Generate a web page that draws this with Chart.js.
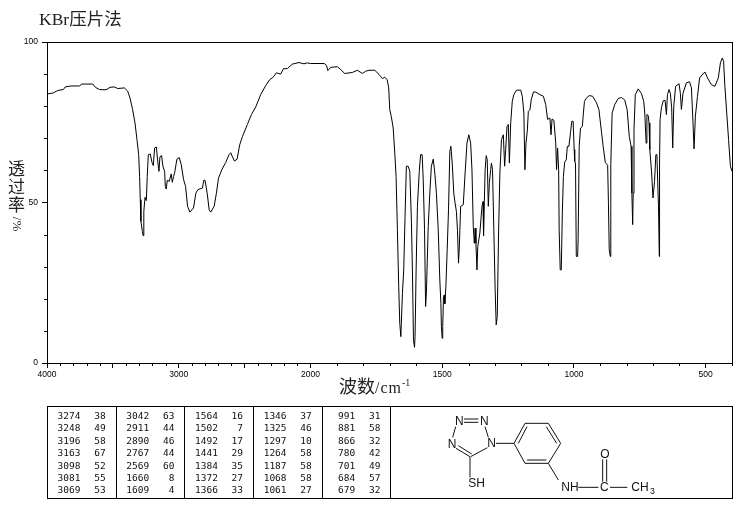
<!DOCTYPE html>
<html>
<head>
<meta charset="utf-8">
<title>KBr压片法</title>
<script src="https://cdn.jsdelivr.net/npm/chart.js@4"></script>
<style>
    html, body { margin: 0; padding: 0; background: #fff; }
    #page { position: relative; width: 737px; height: 510px; overflow: hidden; }
    canvas { position: absolute; left: 0; top: 0; }
    .label { position: absolute; color: #222; font-family: "Liberation Serif", "Noto Sans CJK SC", serif; font-size: 17px; line-height: 1; white-space: nowrap; }
    #chart-title { left: 39px; top: 11px; font-size: 17.5px; }
    #x-title { left: 339px; top: 378px; font-size: 18px; }
    #x-title .unit { font-size: 16px; letter-spacing: 1px; }
    #x-title sup { font-size: 10px; line-height: 0; }
    #y-title { left: 8px; top: 161px; line-height: 18px; }
    #y-title span { display: block; }
    #y-title .unit { margin-top: 0; width: 17px; height: 18px; line-height: 17px; text-align: center; transform: rotate(90deg); font-size: 13px; }
    #peaks { position: absolute; left: 47px; top: 406px; width: 686px; height: 92px; border: 1px solid #000; box-sizing: border-box; border-collapse: collapse; table-layout: fixed; font-family: "DejaVu Sans Mono", monospace; font-size: 9.5px; color: #111; }
    #peaks td { padding: 0; height: 12.4px; line-height: 12.4px; text-align: right; }
    #peaks tr:first-child td { height: 15.4px; vertical-align: bottom; }
    #peaks tr:last-child td { height: 13.6px; vertical-align: top; }
    #peaks col.wn { width: 33px; }
    #peaks col.t { width: 35.7px; }
    #peaks td.t { padding-right: 10px; border-right: 1px solid #000; }
    #peaks td.mol { border: 0; }
    #molecule { position: absolute; left: 390px; top: 400px; }
    #molecule line { stroke: #111; stroke-width: 3; }
    #molecule text { font-family: "Liberation Sans", sans-serif; font-size: 36px; fill: #111; text-anchor: middle; dominant-baseline: central; }
</style>
</head>
<body>
<div id="page">
    <canvas id="irChart" width="737" height="510"></canvas>
    <div class="label" id="chart-title">KBr压片法</div>
    <div class="label" id="y-title"><span>透</span><span>过</span><span>率</span><span class="unit">/%</span></div>
    <div class="label" id="x-title">波数<span class="unit">/cm</span><sup>-1</sup></div>
    <table id="peaks"></table>
    <svg id="molecule" width="347" height="105" viewBox="0 0 1041 315">
        <line x1="222" y1="57" x2="265" y2="57"/><line x1="222" y1="67" x2="265" y2="67"/>
        <line x1="197" y1="80" x2="188" y2="112"/><line x1="285" y1="80" x2="295" y2="112"/>
        <line x1="292" y1="143" x2="242" y2="170"/><line x1="198" y1="145" x2="240" y2="170"/>
        <line x1="205" y1="137" x2="245" y2="162"/><line x1="240" y1="170" x2="240" y2="232"/>
        <line x1="318" y1="130" x2="372" y2="130"/>
        <line x1="372" y1="130" x2="405" y2="70"/><line x1="385" y1="130" x2="411" y2="80"/>
        <line x1="405" y1="70" x2="475" y2="70"/>
        <line x1="475" y1="70" x2="512" y2="130"/><line x1="469" y1="80" x2="500" y2="130"/>
        <line x1="512" y1="130" x2="475" y2="190"/>
        <line x1="475" y1="190" x2="405" y2="190"/><line x1="469" y1="180" x2="411" y2="180"/>
        <line x1="405" y1="190" x2="372" y2="130"/>
        <line x1="475" y1="190" x2="505" y2="240"/>
        <line x1="565" y1="262" x2="625" y2="262"/><line x1="660" y1="262" x2="712" y2="262"/>
        <line x1="638" y1="178" x2="638" y2="245"/><line x1="650" y1="178" x2="650" y2="245"/>
        <text x="208" y="62">N</text><text x="283" y="62">N</text><text x="305" y="130">N</text><text x="186" y="132">N</text>
        <text x="260" y="248">SH</text><text x="540" y="262">NH</text><text x="643" y="262">C</text><text x="645" y="163">O</text>
        <text x="750" y="262">CH</text><text x="787" y="272" style="font-size:26px">3</text>
    </svg>
</div>
<script>
// Spectre IR : nombres d'onde et transmittance
const wavenumbers = [
    4000, 3955, 3918, 3875, 3862, 3817, 3754, 3736, 3653, 3633, 3602, 3552, 3521, 3489, 3463, 3413, 3388, 3370, 3350, 3332,
    3317, 3304, 3297, 3292, 3287, 3276, 3271, 3266, 3264, 3256, 3246, 3239, 3231, 3216, 3203, 3193, 3183, 3170, 3158, 3150,
    3143, 3130, 3120, 3107, 3102, 3095, 3087, 3072, 3057, 3049, 3039, 3029, 3014, 2996, 2981, 2963, 2948, 2933, 2915, 2888,
    2870, 2855, 2820, 2810, 2800, 2784, 2769, 2757, 2731, 2714, 2698, 2673, 2643, 2618, 2605, 2592, 2577, 2557, 2537, 2516,
    2479, 2448, 2415, 2378, 2340, 2309, 2284, 2259, 2226, 2205, 2175, 2138, 2087, 2049, 2024, 2001, 1948, 1939, 1934, 1923,
    1898, 1885, 1870, 1841, 1822, 1803, 1790, 1778, 1756, 1740, 1727, 1718, 1709, 1703, 1699, 1693, 1686, 1680, 1675, 1670,
    1665, 1661, 1657, 1655, 1651, 1646, 1641, 1636, 1629, 1623, 1617, 1613, 1609, 1605, 1603, 1599, 1594, 1587, 1582, 1576,
    1572, 1567, 1563, 1560, 1553, 1547, 1541, 1534, 1528, 1522, 1515, 1509, 1505, 1503, 1500, 1498, 1495, 1492, 1490, 1486,
    1481, 1476, 1471, 1467, 1462, 1456, 1451, 1446, 1442, 1438, 1435, 1430, 1420, 1413, 1406, 1399, 1392, 1387, 1382, 1378,
    1375, 1372, 1368, 1365, 1357, 1349, 1345, 1343, 1340, 1337, 1333, 1329, 1325, 1321, 1316, 1313, 1309, 1304, 1299, 1295,
    1291, 1286, 1281, 1275, 1268, 1263, 1259, 1254, 1249, 1245, 1240, 1234, 1228, 1218, 1202, 1196, 1190, 1186, 1182, 1177,
    1173, 1167, 1162, 1154, 1145, 1129, 1116, 1107, 1100, 1091, 1087, 1083, 1076, 1069, 1066, 1062, 1058, 1056, 1052, 1048,
    1044, 1040, 1035, 1029, 1025, 1019, 1013, 1008, 1003, 999, 997, 994, 991, 986, 984, 980, 975, 968, 965, 960,
    952, 942, 929, 914, 905, 895, 889, 881, 872, 869, 866, 862, 860, 855, 845, 832, 819, 807, 798, 790,
    783, 780, 777, 775, 772, 767, 756, 744, 735, 731, 726, 723, 718, 715, 712, 705, 700, 698, 694, 689,
    685, 683, 679, 676, 675, 673, 668, 661, 654, 649, 645, 639, 634, 629, 625, 621, 614, 601, 596, 592,
    586, 573, 561, 554, 548, 544, 539, 531, 523, 507, 502, 493, 478, 465, 452, 444, 437, 432, 427, 420,
    413, 406, 400
];
const transmittance = [
    83.8, 84.1, 84.9, 85.2, 86.0, 86.3, 86.3, 86.9, 86.9, 85.9, 85.2, 85.1, 85.9, 86.0, 85.5, 85.7, 84.7, 82.6, 78.9, 74.8,
    69.6, 64.9, 58.1, 50.9, 44.1, 41.0, 39.7, 41.5, 47.2, 51.6, 50.6, 58.1, 64.9, 65.1, 62.5, 61.5, 67.0, 67.3, 62.3, 59.7,
    64.2, 64.6, 61.3, 59.7, 55.0, 54.2, 56.9, 56.6, 58.9, 56.3, 58.1, 59.7, 63.5, 64.0, 61.8, 57.1, 55.0, 48.8, 47.0, 48.3,
    52.9, 54.0, 54.5, 56.9, 56.9, 52.9, 47.7, 47.0, 48.8, 52.9, 57.6, 60.2, 62.5, 64.9, 65.5, 64.2, 62.9, 63.5, 68.0, 70.6,
    74.3, 77.4, 79.8, 83.6, 86.4, 88.3, 89.0, 90.4, 90.0, 91.7, 91.7, 93.1, 93.6, 93.2, 93.5, 93.3, 93.3, 92.7, 91.1, 92.1,
    92.3, 91.4, 90.2, 90.5, 91.2, 90.2, 90.9, 91.2, 91.2, 89.9, 88.6, 89.0, 88.3, 85.7, 78.9, 76.7, 73.2, 65.4, 58.1, 41.5,
    23.8, 12.4, 8.2, 12.4, 21.7, 29.0, 45.7, 61.3, 61.3, 59.7, 44.6, 29.0, 7.2, 4.9, 8.2, 29.0, 48.8, 59.7, 64.9, 64.9,
    57.1, 41.5, 17.6, 21.7, 42.5, 52.9, 61.3, 63.5, 59.2, 52.9, 41.5, 25.9, 18.6, 11.3, 7.7, 11.3, 20.7, 21.2, 18.4, 23.8,
    35.3, 47.7, 65.9, 67.5, 62.3, 52.9, 49.8, 47.2, 41.3, 31.1, 36.1, 48.8, 49.3, 59.2, 68.5, 71.1, 68.5, 60.2, 42.5, 37.3,
    42.0, 37.3, 29.0, 36.3, 40.5, 48.8, 50.3, 39.6, 50.3, 60.2, 64.6, 63.3, 48.8, 56.0, 60.2, 62.3, 60.2, 41.5, 22.8, 11.9,
    14.5, 40.5, 59.2, 69.6, 71.1, 61.3, 66.5, 73.7, 74.3, 62.3, 74.8, 81.5, 83.6, 85.0, 85.0, 83.1, 77.9, 60.2, 68.5, 72.2,
    78.4, 78.9, 82.0, 84.4, 84.4, 83.6, 83.1, 80.5, 75.9, 76.3, 71.1, 76.0, 75.6, 68.5, 60.2, 67.0, 60.2, 41.5, 29.0, 29.0,
    46.7, 58.1, 62.6, 63.3, 67.5, 67.5, 71.7, 75.3, 75.3, 66.5, 62.8, 62.3, 33.2, 33.2, 38.4, 67.5, 73.2, 73.7, 76.9, 81.5,
    82.6, 83.3, 83.1, 81.0, 78.9, 71.7, 67.5, 62.5, 61.6, 49.8, 35.3, 33.2, 61.8, 77.9, 80.5, 82.4, 82.7, 81.9, 78.9, 70.6,
    67.5, 52.9, 43.1, 52.9, 72.8, 83.6, 85.4, 84.0, 81.5, 77.9, 68.5, 77.4, 77.1, 74.8, 66.5, 59.2, 51.4, 53.0, 56.6, 64.9,
    64.9, 59.2, 48.8, 33.2, 62.3, 75.8, 79.5, 81.7, 81.8, 77.4, 83.6, 85.2, 84.0, 79.5, 67.0, 80.0, 86.2, 87.0, 84.0, 79.0,
    84.0, 87.3, 87.6, 85.7, 74.8, 66.7, 76.9, 83.1, 88.8, 90.4, 90.6, 88.8, 86.7, 86.2, 88.8, 93.5, 95.0, 94.0, 86.2, 77.9,
    69.6, 61.3, 59.7
];

// Graduations
const xMajorTicks = [4000, 3500, 3000, 2500, 2000, 1500, 1000, 500];
const xTickLabels = ['4000', '', '3000', '', '2000', '1500', '1000', '500'];
const xMinorTicks = [
    3900, 3800, 3700, 3600, 3400, 3300, 3200, 3100, 2900, 2800, 2700, 2600, 2400, 2300, 2200, 2100,
    1900, 1800, 1700, 1600, 1400, 1300, 1200, 1100, 900, 800, 700, 600, 400
];
const yMajorTicks = [0, 50, 100];
const yMinorTicks = [10, 20, 30, 40, 60, 70, 80, 90];

// Tableau des pics
const peakWavenumbers = [
    3274, 3248, 3196, 3163, 3098, 3081, 3069,
    3042, 2911, 2890, 2767, 2569, 1660, 1609,
    1564, 1502, 1492, 1441, 1384, 1372, 1366,
    1346, 1325, 1297, 1264, 1187, 1068, 1061,
    991, 881, 866, 780, 701, 684, 679
];
const peakValues = [
    38, 49, 58, 67, 52, 55, 53,
    63, 44, 46, 44, 60, 8, 4,
    16, 7, 17, 29, 35, 27, 33,
    37, 46, 10, 58, 58, 58, 27,
    31, 58, 32, 42, 49, 57, 32
];

// L'échelle est comprimée de moitié au-dessus de 2000 cm-1
function axisPosition(wn) {
    return wn > 2000 ? 2000 + (wn - 2000) / 2 : wn;
}

function buildPeakTable() {
    const table = document.getElementById('peaks');
    const colgroup = document.createElement('colgroup');
    for (let col = 0; col < 5; col++) {
        colgroup.innerHTML += '<col class="wn"><col class="t">';
    }
    colgroup.innerHTML += '<col>';
    table.appendChild(colgroup);
    for (let row = 0; row < 7; row++) {
        const tr = table.insertRow();
        for (let col = 0; col < 5; col++) {
            const i = col * 7 + row;
            const wn = tr.insertCell();
            wn.className = 'wn';
            wn.textContent = peakWavenumbers[i];
            const t = tr.insertCell();
            t.className = 't';
            t.textContent = peakValues[i];
        }
        if (row === 0) {
            const mol = tr.insertCell();
            mol.className = 'mol';
            mol.rowSpan = 7;
        }
    }
}

// Cadre complet et petites graduations
const framePlugin = {
    id: 'frame',
    afterDraw(chart) {
        const { ctx, chartArea, scales } = chart;
        ctx.save();
        ctx.strokeStyle = '#000';
        ctx.lineWidth = 1;
        ctx.strokeRect(chartArea.left + 0.5, chartArea.top + 0.5, chartArea.width, chartArea.height);
        ctx.beginPath();
        xMinorTicks.forEach(wn => {
            const x = Math.round(scales.x.getPixelForValue(axisPosition(wn))) + 0.5;
            ctx.moveTo(x, chartArea.bottom);
            ctx.lineTo(x, chartArea.bottom + 3);
        });
        yMinorTicks.forEach(v => {
            const y = Math.round(scales.y.getPixelForValue(v)) + 0.5;
            ctx.moveTo(chartArea.left, y);
            ctx.lineTo(chartArea.left - 3, y);
        });
        ctx.stroke();
        ctx.restore();
    }
};

const tickFont = { family: '"Liberation Sans", sans-serif', size: 8.5 };

buildPeakTable();

new Chart(document.getElementById('irChart'), {
    type: 'line',
    plugins: [framePlugin],
    data: {
        datasets: [{
            data: wavenumbers.map((wn, i) => ({ x: axisPosition(wn), y: transmittance[i] })),
            borderColor: '#000',
            borderWidth: 1,
            pointRadius: 0,
            tension: 0
        }]
    },
    options: {
        responsive: false,
        animation: false,
        layout: { padding: { top: 42, right: 5, left: 0, bottom: 0 } },
        plugins: { legend: { display: false }, tooltip: { enabled: false } },
        scales: {
            x: {
                type: 'linear',
                reverse: true,
                min: 400,
                max: 3000,
                afterBuildTicks: scale => {
                    scale.ticks = xMajorTicks.map(wn => ({ value: axisPosition(wn) }));
                },
                afterFit: scale => { scale.height = 147; },
                grid: { drawOnChartArea: false, color: '#000', tickLength: 5 },
                border: { color: '#000' },
                ticks: {
                    autoSkip: false,
                    maxRotation: 0,
                    padding: 2,
                    color: '#000',
                    font: tickFont,
                    callback: (value, index) => xTickLabels[index]
                }
            },
            y: {
                min: 0,
                max: 100,
                afterBuildTicks: scale => {
                    scale.ticks = yMajorTicks.map(v => ({ value: v }));
                },
                afterFit: scale => { scale.width = 47; },
                grid: { drawOnChartArea: false, color: '#000', tickLength: 5 },
                border: { color: '#000' },
                ticks: { padding: 4, color: '#000', font: tickFont }
            }
        }
    }
});
</script>
</body>
</html>
